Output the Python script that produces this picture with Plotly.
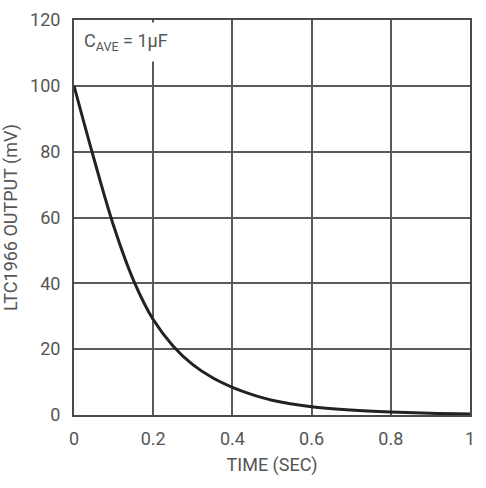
import plotly.graph_objects as go

time_s = [0, 0.05, 0.1, 0.15, 0.2, 0.25, 0.3, 0.35, 0.4, 0.45, 0.5, 0.6, 0.7, 0.8, 0.9, 1.0]
output_mv = [100, 78, 57.5, 41, 29, 21, 15.3, 11.3, 8.4, 6.2, 4.5, 2.5, 1.5, 0.9, 0.5, 0.3]

x_ticks = [0, 0.2, 0.4, 0.6, 0.8, 1]
x_labels = ["0", "0.2", "0.4", "0.6", "0.8", "1"]
y_ticks = [0, 20, 40, 60, 80, 100, 120]

FONT = "Roboto, sans-serif"
GRID = "#5a5a5a"
TXT = "#555555"

fig = go.Figure()
fig.add_trace(go.Scatter(x=time_s, y=output_mv, mode="lines",
                         line=dict(color="#222222", width=3, shape="spline", smoothing=1.0),
                         showlegend=False, hoverinfo="skip"))

fig.update_layout(
    width=486, height=488,
    margin=dict(l=74, r=16, t=20, b=73),
    paper_bgcolor="white", plot_bgcolor="white",
    font=dict(family=FONT, color=TXT, size=18),
    xaxis=dict(range=[0, 1], tickvals=x_ticks, ticktext=x_labels, automargin=False,
               showgrid=True, gridcolor=GRID, gridwidth=1.6,
               showline=True, linecolor="#4a4a4a", linewidth=2, mirror=True,
               zeroline=False, ticks="", ticklen=0, ticklabelstandoff=6,
               tickfont=dict(size=18, color=TXT),
               title=dict(text="TIME (SEC)", font=dict(size=18, color=TXT), standoff=11)),
    yaxis=dict(range=[0, 120], tickvals=y_ticks, automargin=False,
               showgrid=True, gridcolor=GRID, gridwidth=1.6,
               showline=True, linecolor="#4a4a4a", linewidth=2, mirror=True,
               zeroline=False, ticks="", ticklen=0, ticklabelstandoff=8,
               tickfont=dict(size=18, color=TXT),
               title=dict(text="LTC1966 OUTPUT (mV)", font=dict(size=18, color=TXT), standoff=10)),
    annotations=[dict(x=0.004, y=0.994, xref="paper", yref="paper", xanchor="left", yanchor="top",
                      text="C<sub>AVE</sub> = 1μF", showarrow=False, borderpad=7,
                      font=dict(size=18, color=TXT), bgcolor="white")],
)

fig.write_html("out.html")
